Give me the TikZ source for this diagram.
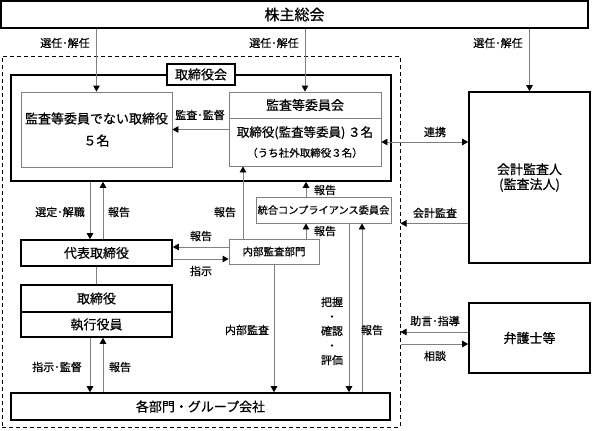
\documentclass[tikz,border=0pt]{standalone}
\usepackage{fontspec}
\setmainfont{Noto Sans CJK JP}[FakeBold=0.6]
\usetikzlibrary{arrows.meta}
\definecolor{linegray}{gray}{0.5}
\tikzstyle{box}=[draw, line width=1.6pt, inner sep=0pt, align=center, font=\fontsize{13}{15}\selectfont]
\tikzstyle{tbox}=[box, draw=linegray, line width=0.8pt]
\tikzstyle{lbl}=[inner sep=0pt, align=center, font=\fontsize{11}{13}\selectfont]
\tikzstyle{conn}=[draw=linegray, line width=0.8pt]
\tikzstyle{arr}=[conn, -{Triangle[length=6pt, width=6.5pt, color=black, fill=black]}]
\tikzstyle{arrb}=[conn, {Triangle[length=6pt, width=6.5pt, color=black, fill=black]}-{Triangle[length=6pt, width=6.5pt, color=black, fill=black]}]

\begin{document}
\begin{tikzpicture}[x=1pt, y=-1pt]
        \useasboundingbox (0,0) rectangle (592,431);
        % company frame
        \node[draw, dash pattern=on 4pt off 3pt, line width=1pt, minimum width=398pt, minimum height=371pt] (CO) at (201,241.5) {};
        \node[box, minimum width=587pt, minimum height=27pt, font=\fontsize{15}{17}\selectfont] (SH) at (294.5,14.5) {株主総会};
        \node[box, minimum width=380pt, minimum height=106pt] (BD) at (201,128) {};
        \node[box, fill=white, minimum width=68pt, minimum height=21pt] (BDL) at (201,74.5) {取締役会};
        \node[tbox, minimum width=151pt, minimum height=75pt, font=\fontsize{13}{22}\selectfont] (ND) at (96.5,129.5) {監査等委員でない取締役\\５名};
        \node[tbox, minimum width=152pt, minimum height=26pt] (AC1) at (305,105) {監査等委員会};
        \node[tbox, minimum width=152pt, minimum height=48pt, font=\fontsize{12.5}{20}\selectfont] (AC2) at (305,142) {取締役(監査等委員) ３名\\{\fontsize{10.5}{20}\selectfont（うち社外取締役３名）}};
        \node[box, minimum width=121pt, minimum height=171pt] (AU) at (529.5,177.5) {会計監査人\\(監査法人)};
        \node[tbox, minimum width=135pt, minimum height=26pt, font=\fontsize{10.2}{13}\selectfont] (CC) at (323.5,210) {統合コンプライアンス委員会};
        \node[box, minimum width=151pt, minimum height=26pt] (RD) at (96.5,253) {代表取締役};
        \node[tbox, minimum width=90pt, minimum height=25pt, font=\fontsize{10.5}{13}\selectfont] (IA) at (274,251.5) {内部監査部門};
        \node[box, minimum width=151pt, minimum height=27pt] (DR) at (96.5,298.5) {取締役};
        \node[box, minimum width=151pt, minimum height=25pt] (EO) at (96.5,324.5) {執行役員};
        \node[box, minimum width=379pt, minimum height=27pt] (DP) at (200.5,406.5) {各部門・グループ会社};
        \node[box, minimum width=121pt, minimum height=70pt] (LW) at (529.5,338) {弁護士等};

        % shareholders
        \draw[arr] (SH.south -| ND.north) -- (ND.north);
        \draw[arr] (SH.south -| AC1.north) -- (AC1.north);
        \draw[arr] (SH.south -| AU.north) -- (AU.north);
        \node[lbl] (L1) at (65,43) {選任･解任};
        \node[lbl] (L2) at (274,43) {選任･解任};
        \node[lbl] (L3) at (498,43) {選任･解任};

        % board
        \draw[arr] (AC2.west |- ND.east) -- (ND.east);
        \node[lbl] (L4) at (200,115) {監査･監督};
        \draw[arrb] (AC2.east) -- (AC2.east -| AU.west);
        \node[lbl] (L5) at (435,132) {連携};
        \draw[arr] (AU.west |- CC.south) -- (CO.east |- CC.south);
        \node[lbl] (L6) at (435,213) {会計監査};
        \draw[arr] ([xshift=-6.5pt]RD.north |- BD.south) -- ([xshift=-6.5pt]RD.north);
        \draw[arr] ([xshift=6.5pt]RD.north) -- ([xshift=6.5pt]RD.north |- BD.south);
        \node[lbl] (L7) at (60,212) {選定･解職};
        \node[lbl] (L8) at (119,212) {報告};

        % internal audit
        \draw[arr] ([yshift=6pt]RD.east -| IA.west) -- ([yshift=6pt]RD.east);
        \draw[arr] ([yshift=-6pt]RD.east) -- ([yshift=-6pt]RD.east -| IA.west);
        \node[lbl] (L9) at (201,236) {報告};
        \node[lbl] (L10) at (201,271) {指示};
        \draw[arr] ([xshift=-31pt]IA.north) -- ([xshift=-31pt]IA.north |- AC2.south);
        \node[lbl] (L11) at (225,212) {報告};
        \draw[arr] ([xshift=-17.5pt]CC.north) -- ([xshift=-17.5pt]CC.north |- BD.south);
        \node[lbl] (L12) at (325,190) {報告};
        \draw[arr] ([xshift=-17.5pt]CC.south |- IA.north) -- ([xshift=-17.5pt]CC.south);
        \node[lbl] (L13) at (325,231) {報告};
        \draw[arr] (IA.south) -- (IA.south |- DP.north);
        \node[lbl] (L14) at (247,330) {内部監査};
        \draw[arr] ([xshift=25.5pt]CC.south) -- ([xshift=25.5pt]CC.south |- DP.north);
        \draw[arr] ([xshift=38.5pt]CC.south |- DP.north) -- ([xshift=38.5pt]CC.south);
        \node[lbl, font=\fontsize{11}{14.5}\selectfont] (L15) at (332,331) {把握\\・\\確認\\・\\評価};
        \node[lbl] (L16) at (372,330) {報告};

        % execution
        \draw[conn] (RD.south) -- (DR.north);
        \draw[arr] ([xshift=-6.5pt]EO.south) -- ([xshift=-6.5pt]EO.south |- DP.north);
        \draw[arr] ([xshift=6.5pt]EO.south |- DP.north) -- ([xshift=6.5pt]EO.south);
        \node[lbl] (L17) at (57,367) {指示･監督};
        \node[lbl] (L18) at (120,367) {報告};

        % lawyers
        \draw[arr] ([yshift=6pt]LW.west) -- ([yshift=6pt]LW.west -| CO.east);
        \draw[arr] ([yshift=-6pt]LW.west -| CO.east) -- ([yshift=-6pt]LW.west);
        \node[lbl] (L19) at (435,321) {助言･指導};
        \node[lbl] (L20) at (435,356) {相談};
    \end{tikzpicture}
\end{document}
